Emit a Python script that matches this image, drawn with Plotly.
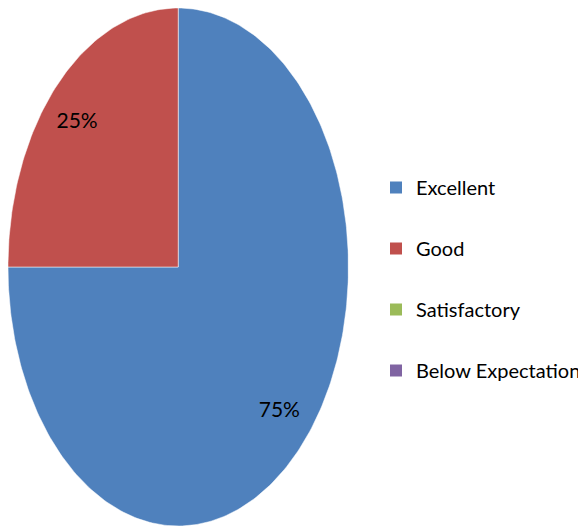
import numpy as np
import plotly.graph_objects as go

categories = ["Excellent", "Good", "Satisfactory", "Below Expectation"]
values = [75, 25, 0, 0]
colors = ["#4F81BD", "#C0504D", "#9BBB59", "#8064A2"]

FONT = "Lato, Open Sans, sans-serif"
# the page body keeps its default 8px margin, so the visible area is 578x520
W, H = 578, 520

total = float(sum(values))
fig = go.Figure()

start = 0.0
for name, val, color in zip(categories, values, colors):
    frac = val / total
    if frac > 0:
        # wedge from 12 o'clock, clockwise
        theta = np.linspace(start, start + frac, max(2, int(frac * 360))) * 2 * np.pi
        x = np.concatenate([[0], np.sin(theta), [0]])
        y = np.concatenate([[0], np.cos(theta), [0]])
        fig.add_trace(
            go.Scatter(
                x=x,
                y=y,
                mode="lines",
                fill="toself",
                fillcolor=color,
                line=dict(width=1, color="rgba(255,255,255,0.5)"),
                showlegend=False,
                hoverinfo="skip",
            )
        )
        mid = (start + frac / 2) * 2 * np.pi
        fig.add_trace(
            go.Scatter(
                x=[0.84 * np.sin(mid)],
                y=[0.79 * np.cos(mid)],
                mode="text",
                text=[f"{frac:.0%}"],
                textfont=dict(family=FONT, size=21, color="#000000"),
                showlegend=False,
                hoverinfo="skip",
            )
        )
    fig.add_trace(
        go.Scatter(
            x=[None],
            y=[None],
            mode="markers",
            marker=dict(symbol="square", size=12, color=color),
            name=name,
            legendgroup=name,
        )
    )
    start += frac

fig.update_layout(
    width=W,
    height=H,
    margin=dict(l=0, r=0, t=0, b=0),
    paper_bgcolor="white",
    plot_bgcolor="white",
    showlegend=True,
    legend=dict(
        x=372 / W,
        xanchor="left",
        y=1 - 271 / H,
        yanchor="middle",
        font=dict(family=FONT, size=20, color="#000000"),
        tracegroupgap=32,
        bgcolor="rgba(0,0,0,0)",
    ),
)

fig.update_xaxes(
    range=[-1, 1],
    domain=[0, 344 / W],
    visible=False,
    fixedrange=True,
)
fig.update_yaxes(
    range=[-1, 1],
    domain=[2 / H, 1],
    visible=False,
    fixedrange=True,
)

fig.write_html("out.html")
